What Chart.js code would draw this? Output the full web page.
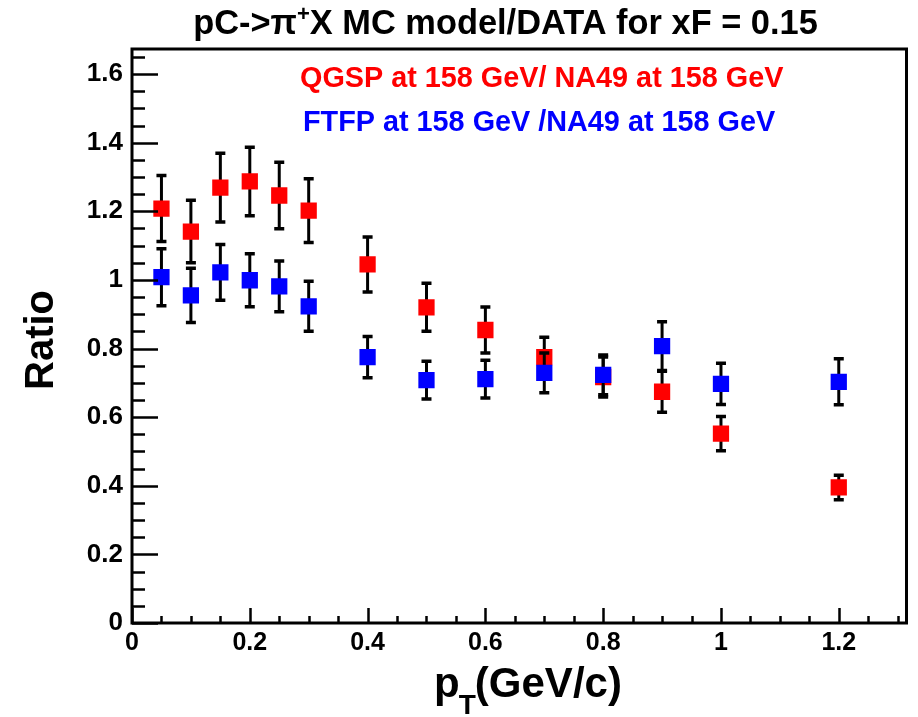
<!DOCTYPE html>
<html>
<head>
<meta charset="utf-8">
<script src="https://cdn.jsdelivr.net/npm/chart.js@4/dist/chart.umd.min.js"></script>
<style>
  html, body { margin: 0; padding: 0; background: #ffffff; }
  #wrap { width: 918px; height: 717px; }
  canvas { display: block; }
</style>
</head>
<body>
<div id="wrap"><canvas id="c" width="918" height="717"></canvas></div>
<script>
// pT bins (GeV/c)
const pT = [0.05, 0.10, 0.15, 0.20, 0.25, 0.30, 0.40, 0.50, 0.60, 0.70, 0.80, 0.90, 1.00, 1.20];

// QGSP / NA49 ratio and its uncertainty
const qgspRatio = [1.208, 1.141, 1.269, 1.287, 1.246, 1.202, 1.045, 0.920, 0.854, 0.775, 0.717, 0.674, 0.552, 0.395];
const qgspErr   = [0.096, 0.091, 0.100, 0.100, 0.097, 0.093, 0.080, 0.070, 0.067, 0.058, 0.058, 0.060, 0.050, 0.036];

// FTFP / NA49 ratio and its uncertainty
const ftfpRatio = [1.008, 0.955, 1.022, 0.999, 0.981, 0.923, 0.775, 0.708, 0.711, 0.729, 0.723, 0.807, 0.697, 0.703];
const ftfpErr   = [0.083, 0.079, 0.081, 0.077, 0.074, 0.073, 0.060, 0.055, 0.055, 0.058, 0.058, 0.071, 0.060, 0.067];

// Axis ticks
const xTickValues = [0, 0.2, 0.4, 0.6, 0.8, 1.0, 1.2];
const xTickLabels = ['0', '0.2', '0.4', '0.6', '0.8', '1', '1.2'];
const yTickValues = [0, 0.2, 0.4, 0.6, 0.8, 1.0, 1.2, 1.4, 1.6];
const yTickLabels = ['0', '0.2', '0.4', '0.6', '0.8', '1', '1.2', '1.4', '1.6'];

// Title and series label strings
const titleParts = ['pC->\u03c0', '+', 'X MC model/DATA for xF = 0.15'];
const legendQGSP = 'QGSP at 158 GeV/ NA49 at 158 GeV';
const legendFTFP = 'FTFP at 158 GeV /NA49 at 158 GeV';

const FONT = '"Liberation Sans", Arial, Helvetica, sans-serif';
const X_MIN = 0, X_MAX = 1.315, Y_MIN = 0, Y_MAX = 1.673;

function toPoints(xs, ys) { return xs.map((x, i) => ({ x: x, y: ys[i] })); }

// Error bars (drawn under each series' markers), frame with inward ticks, and text
const rootStyle = {
  id: 'rootStyle',
  beforeDatasetDraw(chart, args) {
    const ds = chart.data.datasets[args.index];
    const xs = chart.scales.x, ys = chart.scales.y;
    const ctx = chart.ctx;
    ctx.save();
    ctx.strokeStyle = '#000000';
    ctx.lineCap = 'butt';
    ds.data.forEach((p, i) => {
      const e = ds.yErr[i];
      const px = xs.getPixelForValue(p.x);
      const yt = ys.getPixelForValue(p.y + e);
      const yb = ys.getPixelForValue(p.y - e);
      ctx.lineWidth = 3;
      ctx.beginPath();
      ctx.moveTo(px, yt); ctx.lineTo(px, yb);
      ctx.stroke();
      ctx.lineWidth = 3.5;
      ctx.beginPath();
      ctx.moveTo(px - 5, yt); ctx.lineTo(px + 5, yt);
      ctx.moveTo(px - 5, yb); ctx.lineTo(px + 5, yb);
      ctx.stroke();
    });
    ctx.restore();
  },
  afterDraw(chart) {
    const ctx = chart.ctx;
    const a = chart.chartArea;
    const xs = chart.scales.x, ys = chart.scales.y;
    ctx.save();
    ctx.strokeStyle = '#000000';

    // ticks along the bottom axis
    ctx.lineWidth = 2.5;
    ctx.beginPath();
    for (let k = 0; k * 0.05 <= X_MAX + 1e-9; k++) {
      const v = k * 0.05;
      const px = Math.round(xs.getPixelForValue(v)) + 0.5;
      const len = (k % 4 === 0) ? 15 : 7;
      ctx.moveTo(px, a.bottom); ctx.lineTo(px, a.bottom - len);
    }
    // ticks along the left axis
    for (let k = 0; k * 0.05 <= Y_MAX + 1e-9; k++) {
      const v = k * 0.05;
      const py = Math.round(ys.getPixelForValue(v)) + 0.5;
      const len = (k % 4 === 0) ? 26 : 13;
      ctx.moveTo(a.left, py); ctx.lineTo(a.left + len, py);
    }
    ctx.stroke();

    // frame
    ctx.lineWidth = 3;
    ctx.strokeRect(a.left, a.top, a.right - a.left, a.bottom - a.top);

    // title
    ctx.fillStyle = '#000000';
    ctx.textBaseline = 'alphabetic';
    ctx.textAlign = 'left';
    const fMain = 'bold 34.4px ' + FONT, fSup = 'bold 22px ' + FONT;
    ctx.font = fMain; const w0 = ctx.measureText(titleParts[0]).width;
    ctx.font = fSup;  const w1 = ctx.measureText(titleParts[1]).width;
    ctx.font = fMain; const w2 = ctx.measureText(titleParts[2]).width;
    let tx = 505.5 - (w0 + w1 + w2) / 2;
    const tb = 34;
    ctx.font = fMain; ctx.fillText(titleParts[0], tx, tb); tx += w0;
    ctx.font = fSup;  ctx.fillText(titleParts[1], tx, tb - 13); tx += w1;
    ctx.font = fMain; ctx.fillText(titleParts[2], tx, tb);

    // series labels
    ctx.font = 'bold 28.8px ' + FONT;
    ctx.fillStyle = '#ff0000';
    ctx.fillText(legendQGSP, 300, 87);
    ctx.fillStyle = '#0000ff';
    ctx.fillText(legendFTFP, 303, 131);

    // y axis title
    ctx.fillStyle = '#000000';
    ctx.save();
    ctx.translate(53, 340);
    ctx.rotate(-Math.PI / 2);
    ctx.textAlign = 'center';
    ctx.font = 'bold 40px ' + FONT;
    ctx.fillText('Ratio', 0, 0);
    ctx.restore();

    // x axis title with subscript
    ctx.textAlign = 'left';
    const fx = 'bold 42px ' + FONT, fs = 'bold 28px ' + FONT;
    ctx.font = fx; const wp = ctx.measureText('p').width;
    ctx.font = fs; const wt = ctx.measureText('T').width;
    ctx.font = fx; const wr = ctx.measureText('(GeV/c)').width;
    let ax = 529 - (wp + wt + wr) / 2;
    const ab = 697;
    ctx.font = fx; ctx.fillText('p', ax, ab); ax += wp;
    ctx.font = fs; ctx.fillText('T', ax - 1, ab + 17); ax += wt - 2;
    ctx.font = fx; ctx.fillText('(GeV/c)', ax, ab);

    ctx.restore();
  }
};

new Chart(document.getElementById('c'), {
  type: 'scatter',
  data: {
    datasets: [
      {
        label: 'QGSP at 158 GeV / NA49 at 158 GeV',
        data: toPoints(pT, qgspRatio),
        yErr: qgspErr,
        order: 1,
        pointStyle: 'rect',
        pointRadius: 11.5,
        pointHoverRadius: 11.5,
        pointBackgroundColor: '#ff0000',
        pointBorderWidth: 0,
        borderWidth: 0
      },
      {
        label: 'FTFP at 158 GeV / NA49 at 158 GeV',
        data: toPoints(pT, ftfpRatio),
        yErr: ftfpErr,
        order: 0,
        pointStyle: 'rect',
        pointRadius: 11.5,
        pointHoverRadius: 11.5,
        pointBackgroundColor: '#0000ff',
        pointBorderWidth: 0,
        borderWidth: 0
      }
    ]
  },
  options: {
    responsive: false,
    animation: false,
    devicePixelRatio: 1,
    layout: { padding: { top: 49, right: 6, left: 0, bottom: 0 } },
    plugins: {
      legend: { display: false },
      title: { display: false },
      tooltip: { enabled: false }
    },
    scales: {
      x: {
        type: 'linear',
        min: X_MIN, max: X_MAX,
        grid: { display: false, drawTicks: false },
        border: { display: false },
        afterBuildTicks: s => { s.ticks = xTickValues.map(v => ({ value: v })); },
        afterFit: s => { s.height = 94; },
        ticks: {
          autoSkip: false,
          maxRotation: 0,
          padding: 5,
          color: '#000000',
          font: { family: FONT, size: 25, weight: 'bold' },
          callback: (v, i) => xTickLabels[i]
        }
      },
      y: {
        type: 'linear',
        min: Y_MIN, max: Y_MAX,
        grid: { display: false, drawTicks: false },
        border: { display: false },
        afterBuildTicks: s => { s.ticks = yTickValues.map(v => ({ value: v })); },
        afterFit: s => { s.width = 132; },
        ticks: {
          autoSkip: false,
          padding: 9,
          color: '#000000',
          font: { family: FONT, size: 26, weight: 'bold' },
          callback: (v, i) => yTickLabels[i]
        }
      }
    }
  },
  plugins: [rootStyle]
});
</script>
</body>
</html>
